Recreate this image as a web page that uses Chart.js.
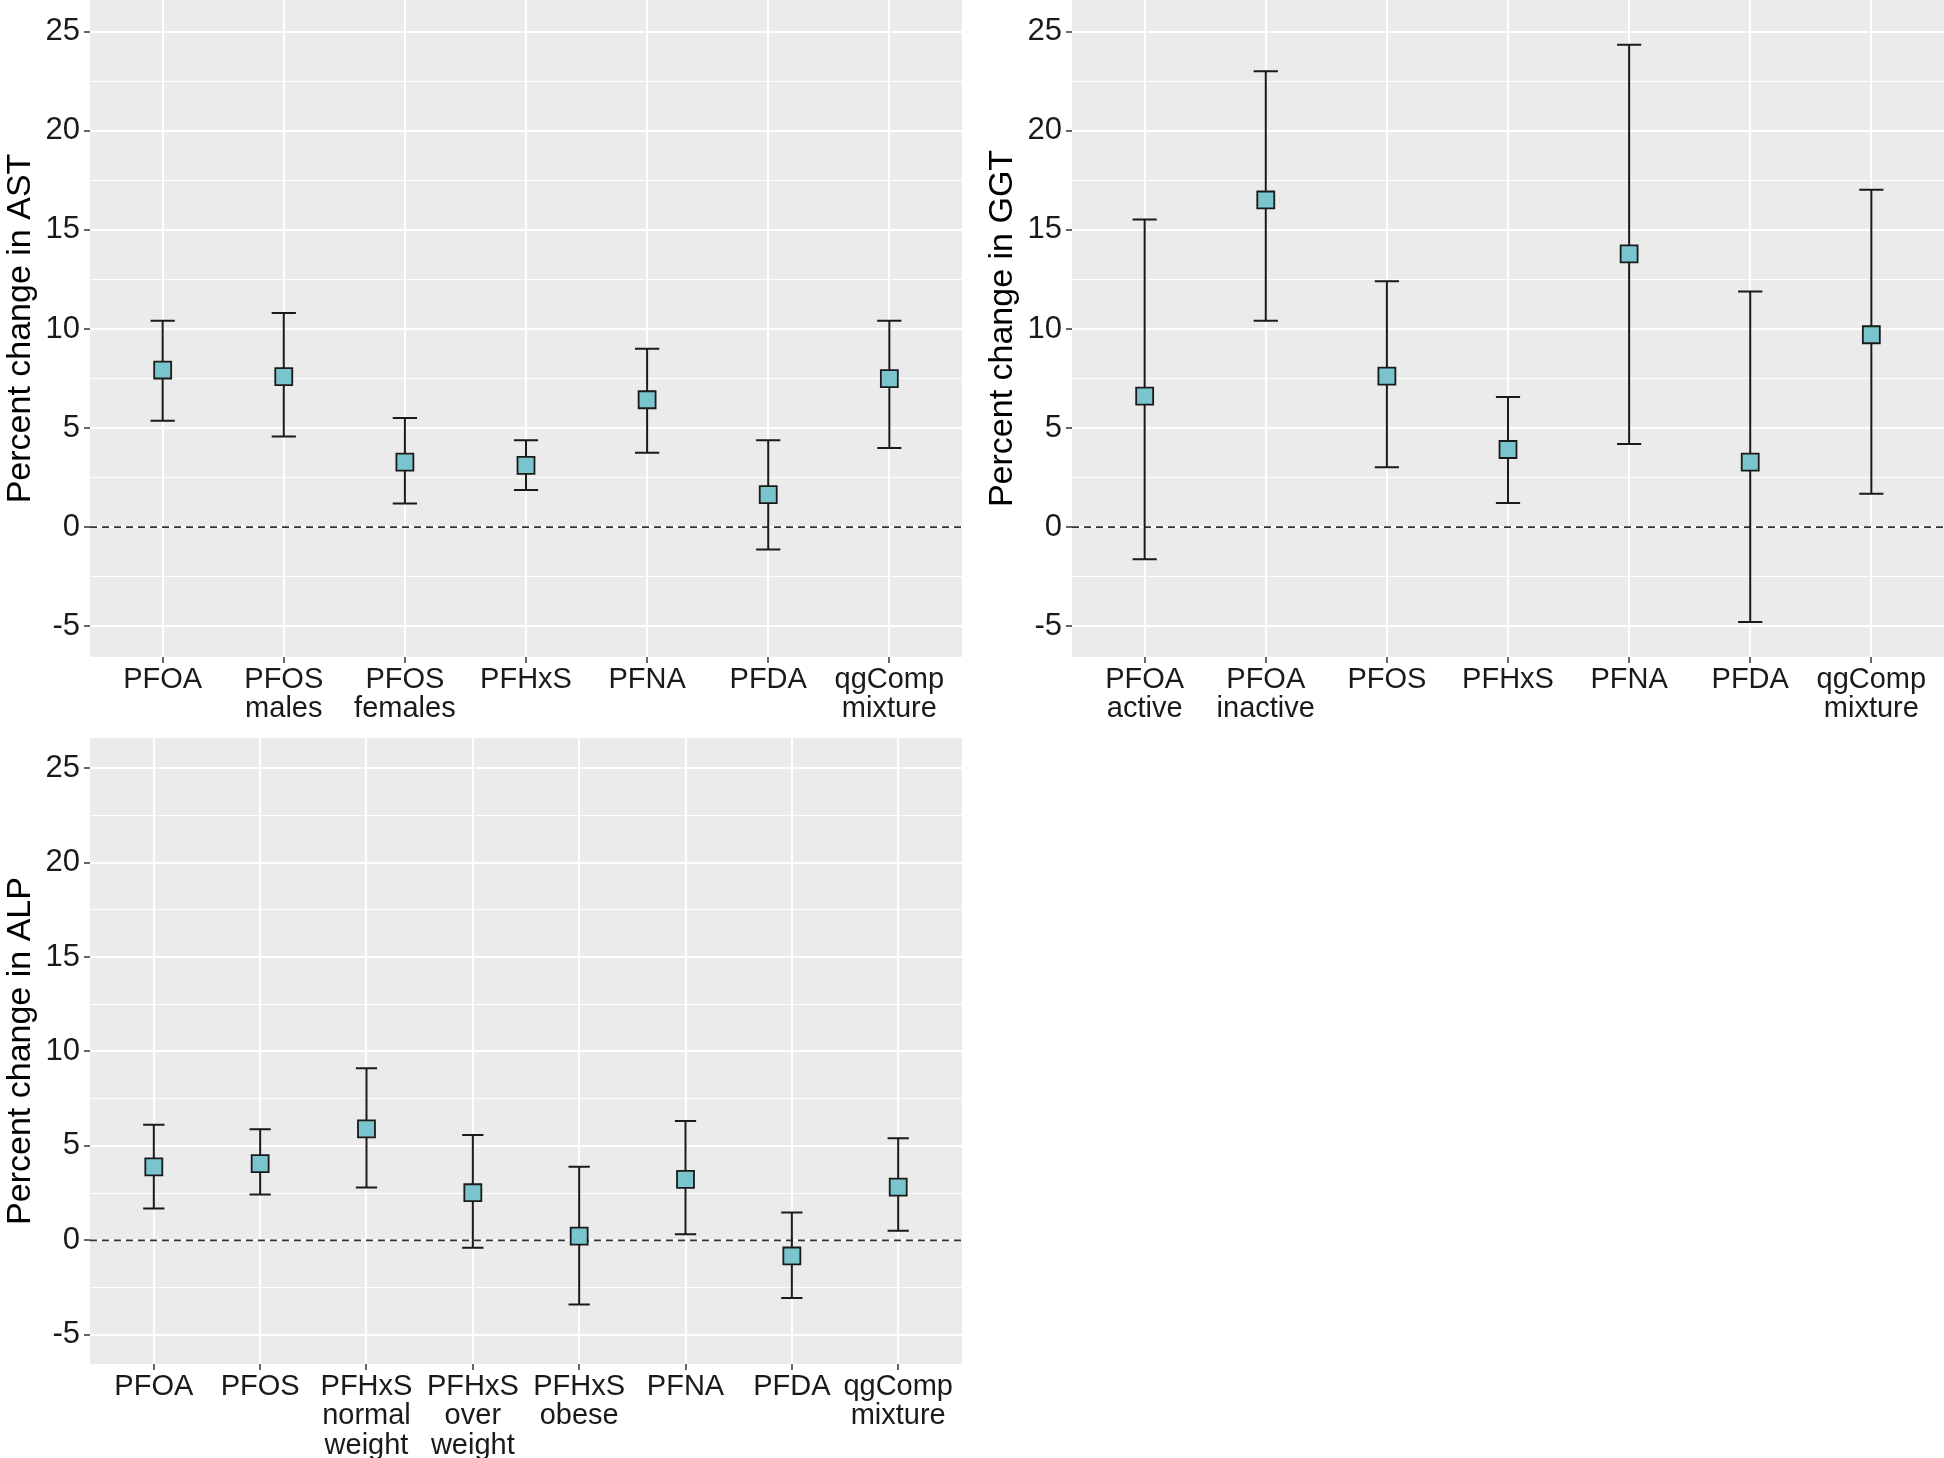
<!DOCTYPE html>
<html>
<head>
<meta charset="utf-8">
<script src="https://cdn.jsdelivr.net/npm/chart.js@4.4.1/dist/chart.umd.min.js"></script>
<style>
  body { margin: 0; background: #fff; width: 1944px; height: 1458px; position: relative; overflow: hidden; }
  canvas { position: absolute; }
</style>
</head>
<body>
<canvas id="ast" width="972" height="738" style="left:0;top:0"></canvas>
<canvas id="ggt" width="972" height="738" style="left:972px;top:0"></canvas>
<canvas id="alp" width="972" height="720" style="left:0;top:738px"></canvas>
<script>
// AST panel
const astLabels = [["PFOA"], ["PFOS", "males"], ["PFOS", "females"], ["PFHxS"], ["PFNA"], ["PFDA"], ["qgComp", "mixture"]];
const astEst  = [7.93, 7.6, 3.28, 3.12, 6.43, 1.64, 7.5];
const astLow  = [5.37, 4.57, 1.2, 1.88, 3.75, -1.13, 3.99];
const astHigh = [10.41, 10.81, 5.51, 4.39, 9.0, 4.39, 10.41];

// GGT panel
const ggtLabels = [["PFOA", "active"], ["PFOA", "inactive"], ["PFOS"], ["PFHxS"], ["PFNA"], ["PFDA"], ["qgComp", "mixture"]];
const ggtEst  = [6.61, 16.51, 7.62, 3.92, 13.79, 3.28, 9.71];
const ggtLow  = [-1.62, 10.41, 3.03, 1.22, 4.2, -4.78, 1.69];
const ggtHigh = [15.53, 23.0, 12.41, 6.57, 24.34, 11.89, 17.03];

// ALP panel
const alpLabels = [["PFOA"], ["PFOS"], ["PFHxS", "normal", "weight"], ["PFHxS", "over", "weight"], ["PFHxS", "obese"], ["PFNA"], ["PFDA"], ["qgComp", "mixture"]];
const alpEst  = [3.89, 4.06, 5.9, 2.52, 0.22, 3.23, -0.83, 2.82];
const alpLow  = [1.69, 2.42, 2.79, -0.39, -3.4, 0.32, -3.06, 0.51];
const alpHigh = [6.12, 5.88, 9.11, 5.58, 3.89, 6.32, 1.47, 5.41];

const yTicks = [-5, 0, 5, 10, 15, 20, 25];
const yMinor = yTicks.slice(0, -1).map(v => v + 2.5);
const yAll = yTicks.concat(yMinor).sort((a, b) => a - b);

const FONT = "'Liberation Sans', Arial, sans-serif";

function makePanel(id, labels, est, low, high, title, yWidth, xHeight, titlePad, padRight) {
  const n = labels.length;
  const panelPlugin = {
    id: 'panel_' + id,
    beforeDraw(chart) {
      const a = chart.chartArea, ctx = chart.ctx;
      ctx.save();
      ctx.fillStyle = '#EBEBEB';
      ctx.fillRect(a.left, a.top, a.right - a.left, a.bottom - a.top);
      ctx.restore();
    },
    beforeDatasetsDraw(chart) {
      const a = chart.chartArea, ctx = chart.ctx;
      const xs = chart.scales.x, ys = chart.scales.y;
      ctx.save();
      // dashed line at zero
      const y0 = ys.getPixelForValue(0);
      ctx.strokeStyle = '#333';
      ctx.lineWidth = 1.8;
      ctx.setLineDash([7, 5]);
      ctx.beginPath();
      ctx.moveTo(a.left, y0);
      ctx.lineTo(a.right, y0);
      ctx.stroke();
      ctx.setLineDash([]);
      // error bars
      ctx.strokeStyle = '#1a1a1a';
      ctx.lineWidth = 2;
      for (let i = 0; i < n; i++) {
        const x = xs.getPixelForValue(i);
        const xl = xs.getPixelForValue(i - 0.1), xr = xs.getPixelForValue(i + 0.1);
        const yl = ys.getPixelForValue(low[i]), yh = ys.getPixelForValue(high[i]);
        ctx.beginPath();
        ctx.moveTo(x, yl); ctx.lineTo(x, yh);
        ctx.moveTo(xl, yl); ctx.lineTo(xr, yl);
        ctx.moveTo(xl, yh); ctx.lineTo(xr, yh);
        ctx.stroke();
      }
      ctx.restore();
    }
  };

  return new Chart(document.getElementById(id), {
    type: 'scatter',
    data: {
      datasets: [{
        data: est.map((y, i) => ({ x: i, y: y })),
        pointStyle: 'rect',
        pointRadius: 12,
        pointHoverRadius: 12,
        backgroundColor: '#7AC5CD',
        borderColor: '#1a1a1a',
        borderWidth: 1.8
      }]
    },
    options: {
      responsive: false,
      animation: false,
      devicePixelRatio: 1,
      layout: { autoPadding: false, padding: { left: 0, right: padRight, top: 0, bottom: 0 } },
      plugins: { legend: { display: false }, tooltip: { enabled: false } },
      scales: {
        x: {
          type: 'linear',
          min: -0.6,
          max: n - 0.4,
          afterBuildTicks: s => { s.ticks = labels.map((_, i) => ({ value: i })); },
          afterFit: s => { s.height = xHeight; s.paddingLeft = 0; s.paddingRight = 0; },
          ticks: {
            autoSkip: false,
            maxRotation: 0,
            minRotation: 0,
            padding: 2,
            color: '#1a1a1a',
            font: { family: FONT, size: 29, lineHeight: 1.02 },
            callback: (v, i) => labels[i]
          },
          grid: { color: '#ffffff', lineWidth: 2, tickColor: '#333', tickLength: 6, tickWidth: 1.5 },
          border: { display: false }
        },
        y: {
          min: -6.55,
          max: 26.6,
          afterBuildTicks: s => { s.ticks = yAll.map(v => ({ value: v })); },
          afterFit: s => { s.width = yWidth; s.paddingTop = 0; s.paddingBottom = 0; },
          ticks: {
            padding: 4,
            color: '#1a1a1a',
            font: { family: FONT, size: 31 },
            callback: v => yTicks.includes(v) ? String(v) : ''
          },
          grid: {
            color: '#ffffff',
            lineWidth: c => (c.tick && yTicks.includes(c.tick.value)) ? 2 : 1,
            tickColor: c => (c.tick && yTicks.includes(c.tick.value)) ? '#333' : 'rgba(0,0,0,0)',
            tickLength: 6,
            tickWidth: 1.5
          },
          border: { display: false },
          title: {
            display: true,
            text: title,
            color: '#000',
            font: { family: FONT, size: 34 },
            padding: { top: titlePad, bottom: 0 }
          }
        }
      }
    },
    plugins: [panelPlugin]
  });
}

makePanel('ast', astLabels, astEst, astLow, astHigh, 'Percent change in AST', 90, 81, 0, 10);
makePanel('ggt', ggtLabels, ggtEst, ggtLow, ggtHigh, 'Percent change in GGT', 100, 81, 10, 0);
makePanel('alp', alpLabels, alpEst, alpLow, alpHigh, 'Percent change in ALP', 90, 94, 0, 10);
</script>
</body>
</html>
